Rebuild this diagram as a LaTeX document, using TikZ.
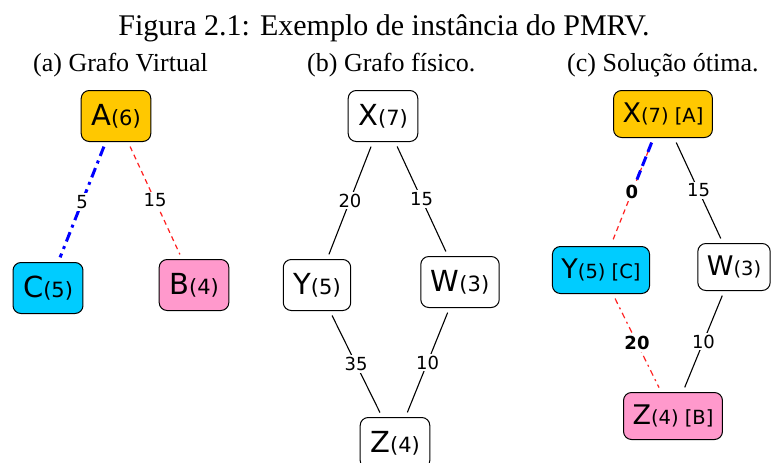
\documentclass[tikz,border=0pt]{standalone}
\usepackage{fontspec}
\usetikzlibrary{calc}
\setmainfont{Liberation Serif}
\newfontfamily\vfont{DejaVu Sans}
\newcommand\bigA[2]{{\vfont\fontsize{29}{30}\selectfont #1}{\vfont\fontsize{21}{22}\selectfont (#2)}}
\newcommand\bigC[3]{{\vfont\fontsize{27}{28}\selectfont #1}{\vfont\fontsize{19.5}{20}\selectfont (#2) [#3]}}
\newcommand\bigCc[2]{{\vfont\fontsize{27}{28}\selectfont #1}{\vfont\fontsize{19.5}{20}\selectfont (#2)}}
\definecolor{cyel}{HTML}{FFC800}
\definecolor{ccya}{HTML}{00CCFF}
\definecolor{cpin}{HTML}{FF99CC}
\definecolor{cred}{HTML}{FF2020}
\definecolor{cblu}{HTML}{0000FF}
\tikzset{
  vbox/.style={draw=black, line width=1pt, rounded corners=8pt, minimum height=51pt, inner xsep=10pt, inner ysep=0pt, fill=white},
  cbox/.style={vbox, minimum height=47pt, inner xsep=9pt},
  elab/.style={fill=white, inner sep=2pt, font=\vfont\fontsize{18}{18}\selectfont},
  eblab/.style={elab, font=\vfont\bfseries\fontsize{18}{18}\selectfont},
  plain/.style={draw=black, line width=1.1pt, shorten >=5pt, shorten <=5pt},
  bluedd/.style={draw=cblu, line width=3pt, dash pattern=on 10pt off 5pt on 3pt off 5pt, shorten >=5pt, shorten <=5pt},
  redd/.style={draw=cred, line width=1.2pt, dash pattern=on 5pt off 4pt, shorten >=5pt, shorten <=5pt},
  reddd/.style={draw=cred, line width=1.2pt, dash pattern=on 6pt off 4pt on 2pt off 4pt, shorten >=5pt, shorten <=5pt},
  blued/.style={draw=cblu, line width=3pt, dash pattern=on 10pt off 5pt, shorten <=5pt},
  ttl/.style={font=\fontsize{30}{30}\selectfont, inner sep=0pt},
  sttl/.style={font=\fontsize{26}{26}\selectfont, inner sep=0pt, anchor=base west},
}
\begin{document}
\begin{tikzpicture}[x=1pt,y=-1pt]
\useasboundingbox (0,0) rectangle (772,463);
% titles
\node[ttl, anchor=base] (title) at (384,35) {Figura 2.1: Exemplo de instância do PMRV.};
\node[sttl] (ta) at (33,71) {(a) Grafo Virtual};
\node[sttl] (tb) at (307,71) {(b) Grafo físico.};
\node[sttl] (tc) at (567,71) {(c) Solução ótima.};
% panel a
\node[vbox, fill=cyel] (A) at (116,116) {\bigA{A}{6}};
\node[vbox, fill=ccya] (C) at (48,288) {\bigA{C}{5}};
\node[vbox, fill=cpin] (B) at (194,285) {\bigA{B}{4}};
\draw[bluedd] (A) -- (C) node[elab, midway] (lac) {5};
\draw[redd] (A) -- (B) node[elab, midway] (lab) {15};
% panel b
\node[vbox] (X) at (383,116) {\bigA{X}{7}};
\node[vbox] (Y) at (317,285) {\bigA{Y}{5}};
\node[vbox] (W) at (460,282) {\bigA{W}{3}};
\node[vbox] (Z) at (395,443) {\bigA{Z}{4}};
\draw[plain] (X) -- (Y) node[elab, midway] (lxy) {20};
\draw[plain] (X) -- (W) node[elab, midway] (lxw) {15};
\draw[plain] (Y) -- (Z) node[elab, midway] (lyz) {35};
\draw[plain] (W) -- (Z) node[elab, midway] (lwz) {10};
% panel c
\node[cbox, fill=cyel] (cX) at (663,114) {\bigC{X}{7}{A}};
\node[cbox, fill=ccya] (cY) at (601,270) {\bigC{Y}{5}{C}};
\node[cbox] (cW) at (734,267) {\bigCc{W}{3}};
\node[cbox, fill=cpin] (cZ) at (673,416) {\bigC{Z}{4}{B}};
\coordinate (cm) at ($(cX)!0.5!(cY)$);
\draw[redd] (cX) -- (cY);
\draw[blued, shorten >=0pt] (cX) -- ($(cX)!0.42!(cY)$);
\node[eblab] (lcxy) at (cm) {0};
\draw[plain] (cX) -- (cW) node[elab, midway] (lcxw) {15};
\draw[reddd] (cY) -- (cZ) node[eblab, midway] (lcyz) {20};
\draw[plain] (cW) -- (cZ) node[elab, midway] (lcwz) {10};
\end{tikzpicture}
\end{document}
